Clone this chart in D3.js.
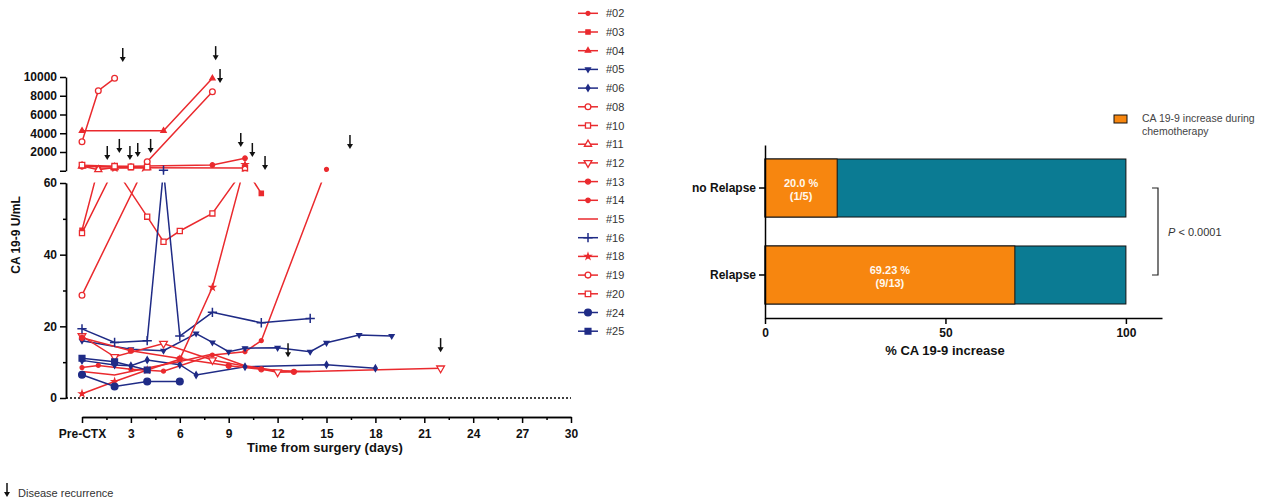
<!DOCTYPE html>
<html>
<head>
<meta charset="utf-8">
<script src="https://cdn.jsdelivr.net/npm/d3@7"></script>
<style>
  body { margin: 0; background: #fff; font-family: "Liberation Sans", Arial, sans-serif; }
  .axis path, .axis line { stroke: #000; stroke-width: 1.5; }
  .axis text { font-family: "Liberation Sans", Arial, sans-serif; font-weight: bold; font-size: 12px; fill: #111; }
</style>
</head>
<body>
<svg id="chart" width="1277" height="503"></svg>
<script>
// ---- data: [day, CA 19-9 U/mL] per patient ----
const s02 = [[0, 8.5], [1, 9.1], [3, 8.0], [5, 7.5], [8, 12.0], [10, 12.9], [11, 16.0], [15, 150]];
const s03 = [[0, 46.8], [1, 280], [3, 330], [10, 300], [11, 57.1]];
const s04 = [[0, 4270], [5, 4270], [8, 9860]];
const s05 = [[0, 16], [3, 13.6], [5, 13.2], [7, 18], [8, 15.5], [9, 12.9], [10, 13.9], [12, 14], [14, 12.9], [15, 15.4], [17, 17.6], [19, 17.3]];
const s06 = [[0, 10.5], [2, 9.2], [3, 9.0], [4, 10.6], [6, 9.3], [7, 6.4], [10, 8.7], [15, 9.3], [18, 8.3]];
const s08 = [[0, 3100], [1, 8540], [2, 9860]];
const s10 = [[0, 46.0], [2, 330], [4, 50.6], [5, 43.6], [6, 46.6], [8, 51.5], [10, 300]];
const s11 = [[0, 500], [1, 120], [2, 350], [4, 330]];
const s12 = [[0, 17.3], [2, 11.5], [5, 15.2], [8, 10.6], [12, 7.2], [22, 8.3]];
const s13 = [[0, 16.8], [3, 13.2], [6, 11.0], [9, 9.0], [11, 8.0], [13, 7.3]];
const s14 = [[0, 420], [2, 450], [3, 480], [8, 615], [10, 1330]];
const s15 = [[0, 7.4], [2, 6.4], [4, 8.4], [6, 10.2], [8, 12.3], [10, 9.0], [12, 7.6], [14, 7.4]];
const s16 = [[0, 19.3], [2, 15.5], [4, 16.0], [5, 64], [6, 17.3], [8, 23.9], [11, 21.0], [14, 22.2]];
const s18 = [[0, 1.2], [2, 4.6], [4, 7.8], [6, 10.8], [8, 30.9], [10, 650]];
const s19 = [[0, 28.7], [4, 970], [8, 8430]];
const s20 = [[0, 600], [2, 480], [3, 420], [4, 380]];
const s24 = [[0, 6.5], [2, 3.2], [4, 4.6], [6, 4.6]];
const s25 = [[0, 11.1], [2, 10.1], [4, 7.8]];

const patients = ["#02", "#03", "#04", "#05", "#06", "#08", "#10", "#11", "#12", "#13", "#14", "#15", "#16", "#18", "#19", "#20", "#24", "#25"];
const seriesData = [s02, s03, s04, s05, s06, s08, s10, s11, s12, s13, s14, s15, s16, s18, s19, s20, s24, s25];
const noRelapse = ["#05", "#06", "#16", "#24", "#25"];

// disease recurrence arrows: [day, value at arrow tip]
const recurrence = [[2.5, 11600], [8.2, 11800], [8.47, 9360], [1.55, 1150], [2.29, 1900], [2.94, 1150],
  [3.42, 1470], [4.21, 1900], [9.74, 2530], [10.45, 1470], [11.23, 80], [16.44, 2320], [12.64, 11.4], [22.0, 12.8]];

const xTicks = [0, 3, 6, 9, 12, 15, 18, 21, 24, 27, 30];
const lowTicks = [0, 20, 40, 60];
const highTicks = [0, 2000, 4000, 6000, 8000, 10000];

// bar chart
const groups = ["no Relapse", "Relapse"];
const pctIncrease = [20.0, 69.23];
const counts = ["(1/5)", "(9/13)"];

const red = "#ea2a2e", blue = "#1f2b86";
const orange = "#f7860f", teal = "#0b7b93";

const svg = d3.select("#chart");

// ---- left chart: broken y axis ----
const x = d3.scaleLinear().domain([0, 30]).range([82, 571]);
const yLow = d3.scaleLinear().domain([0, 60]).range([398, 183]);
const yHigh = d3.scaleLinear().domain([0, 10000]).range([170.75, 77]);
const y = d3.scaleLinear().domain([0, 60, 60.001, 10000]).range([398, 183, yHigh(60), 77]);

const clip = svg.append("defs").append("clipPath").attr("id", "segments");
clip.append("rect").attr("x", 60).attr("y", 0).attr("width", 560).attr("height", 171.5);
clip.append("rect").attr("x", 60).attr("y", 182.5).attr("width", 560).attr("height", 240);

const markers = {
  "#02": {type: d3.symbolCircle, size: 12, fill: true},
  "#03": {type: d3.symbolSquare, size: 18, fill: true},
  "#04": {type: d3.symbolTriangle, size: 12, fill: true},
  "#05": {type: d3.symbolTriangle, size: 10, fill: true, rot: 180},
  "#06": {type: d3.symbolDiamond, size: 12, fill: true},
  "#08": {type: d3.symbolCircle, size: 26, fill: false},
  "#10": {type: d3.symbolSquare, size: 26, fill: false},
  "#11": {type: d3.symbolTriangle, size: 22, fill: false},
  "#12": {type: d3.symbolTriangle, size: 26, fill: false, rot: 180},
  "#13": {type: d3.symbolCircle, size: 20, fill: true},
  "#14": {type: d3.symbolCircle, size: 16, fill: true},
  "#15": null,
  "#16": {type: d3.symbolPlus || d3.symbolCross, size: 30, fill: false, plus: true},
  "#18": {type: d3.symbolStar, size: 10, fill: true},
  "#19": {type: d3.symbolCircle, size: 26, fill: false},
  "#20": {type: d3.symbolSquare, size: 30, fill: false},
  "#24": {type: d3.symbolCircle, size: 36, fill: true},
  "#25": {type: d3.symbolSquare, size: 34, fill: true}
};

const colorOf = id => noRelapse.includes(id) ? blue : red;

function drawMarker(g, id, cx, cy) {
  const m = markers[id];
  if (!m) return;
  const c = colorOf(id);
  g.append("path")
    .attr("d", d3.symbol().type(m.type).size(m.size)())
    .attr("transform", `translate(${cx},${cy})` + (m.rot ? ` rotate(${m.rot})` : ""))
    .attr("fill", m.plus ? "none" : (m.fill ? c : "#fff"))
    .attr("stroke", c)
    .attr("stroke-width", m.plus ? 1.5 : 1.3);
}

// zero line
svg.append("line")
  .attr("x1", 66).attr("x2", x(30))
  .attr("y1", yLow(0)).attr("y2", yLow(0))
  .attr("stroke", "#000").attr("stroke-width", 1.3).attr("stroke-dasharray", "2,2");

const line = d3.line().x(d => x(d[0])).y(d => y(d[1]));

const lineG = svg.append("g").attr("clip-path", "url(#segments)");
patients.forEach((id, i) => {
  lineG.append("path")
    .attr("d", line(seriesData[i]))
    .attr("fill", "none")
    .attr("stroke", colorOf(id))
    .attr("stroke-width", 1.5);
});

const markG = svg.append("g");
patients.forEach((id, i) => {
  seriesData[i].forEach(d => drawMarker(markG, id, x(d[0]), y(d[1])));
});

// arrows
function drawArrow(g, ax, tip) {
  g.append("line").attr("x1", ax).attr("x2", ax).attr("y1", tip - 14).attr("y2", tip - 3)
    .attr("stroke", "#111").attr("stroke-width", 1.5);
  g.append("path").attr("d", `M${ax - 3},${tip - 5}L${ax + 3},${tip - 5}L${ax},${tip}Z`).attr("fill", "#111");
}
const arrowG = svg.append("g");
recurrence.forEach(d => drawArrow(arrowG, x(d[0]), y(d[1])));

// axes
svg.append("g").attr("class", "axis").attr("transform", "translate(66,0)")
  .call(d3.axisLeft(yLow).tickValues(lowTicks).tickSize(6).tickSizeOuter(0).tickPadding(3));
svg.append("g").attr("class", "axis").attr("transform", "translate(66,0)")
  .call(d3.axisLeft(yLow).tickValues([10, 30, 50]).tickSize(3).tickFormat("").tickSizeOuter(0));
svg.append("g").attr("class", "axis").attr("transform", "translate(66,0)")
  .call(d3.axisLeft(yHigh).tickValues(highTicks).tickSize(6).tickSizeOuter(0).tickPadding(3)
    .tickFormat(d => d === 0 ? "" : d));

svg.append("g").attr("class", "axis").attr("transform", "translate(0,417)")
  .call(d3.axisBottom(x).tickValues(xTicks).tickSize(6).tickSizeOuter(0).tickPadding(6)
    .tickFormat(d => d === 0 ? "Pre-CTX" : d));
svg.append("g").attr("class", "axis").attr("transform", "translate(0,417)")
  .call(d3.axisBottom(x).tickValues(xTicks.slice(0, -1).map(d => d + 1.5)).tickSize(3).tickFormat("").tickSizeOuter(0));

svg.append("text")
  .attr("x", 325).attr("y", 452).attr("text-anchor", "middle")
  .attr("font-weight", "bold").attr("font-size", 13).attr("fill", "#111")
  .text("Time from surgery (days)");
svg.append("text")
  .attr("transform", "translate(20,235) rotate(-90)").attr("text-anchor", "middle")
  .attr("font-weight", "bold").attr("font-size", 12).attr("fill", "#111")
  .text("CA 19-9 U/mL");

// legend
const leg = svg.append("g");
patients.forEach((id, i) => {
  const ly = 13.3 + i * 18.7;
  leg.append("line").attr("x1", 578).attr("x2", 598).attr("y1", ly).attr("y2", ly)
    .attr("stroke", colorOf(id)).attr("stroke-width", 1.5);
  drawMarker(leg, id, 588, ly);
  leg.append("text").attr("x", 606).attr("y", ly + 4).attr("font-size", 11).attr("fill", "#333").text(id);
});

drawArrow(svg, 7, 497);
svg.append("text").attr("x", 18).attr("y", 497).attr("font-size", 11).attr("fill", "#333").text("Disease recurrence");

// ---- right chart ----
const xr = d3.scaleLinear().domain([0, 110]).range([765, 1162]);
const yr = d3.scaleBand().domain(groups).range([145, 318]).paddingInner(0.333).paddingOuter(0.161);

const bars = svg.append("g");
groups.forEach((g, i) => {
  bars.append("rect").attr("x", xr(0)).attr("y", yr(g)).attr("width", xr(100) - xr(0)).attr("height", yr.bandwidth())
    .attr("fill", teal).attr("stroke", "#111").attr("stroke-width", 1);
  bars.append("rect").attr("x", xr(0)).attr("y", yr(g)).attr("width", xr(pctIncrease[i]) - xr(0)).attr("height", yr.bandwidth())
    .attr("fill", orange).attr("stroke", "#111").attr("stroke-width", 1);
  const cx = (xr(0) + xr(pctIncrease[i])) / 2;
  const cy = yr(g) + yr.bandwidth() / 2;
  bars.append("text").attr("x", cx).attr("y", cy - 1).attr("text-anchor", "middle")
    .attr("font-weight", "bold").attr("font-size", 11).attr("fill", "#fff8ee")
    .text((i === 0 ? pctIncrease[i].toFixed(1) : pctIncrease[i].toFixed(2)) + " %");
  bars.append("text").attr("x", cx).attr("y", cy + 12).attr("text-anchor", "middle")
    .attr("font-weight", "bold").attr("font-size", 11).attr("fill", "#fff8ee")
    .text(counts[i]);
});

svg.append("g").attr("class", "axis").attr("transform", "translate(765,0)")
  .call(d3.axisLeft(yr).tickSize(6).tickSizeOuter(0).tickPadding(3))
  .call(g => g.selectAll("text").attr("font-size", 13));
svg.append("g").attr("class", "axis").attr("transform", "translate(0,318)")
  .call(d3.axisBottom(xr).tickValues([0, 50, 100]).tickSize(6).tickSizeOuter(0).tickPadding(4));
svg.append("text")
  .attr("x", 945).attr("y", 355).attr("text-anchor", "middle")
  .attr("font-weight", "bold").attr("font-size", 13).attr("fill", "#111")
  .text("% CA 19-9 increase");

// significance bracket
const b1 = yr(groups[0]) + yr.bandwidth() / 2, b2 = yr(groups[1]) + yr.bandwidth() / 2;
svg.append("path").attr("d", `M1152,${b1}H1158V${b2}H1152`).attr("fill", "none").attr("stroke", "#222").attr("stroke-width", 1.2);
const pt = svg.append("text").attr("x", 1168).attr("y", (b1 + b2) / 2 + 4).attr("font-size", 11).attr("fill", "#333");
pt.append("tspan").attr("font-style", "italic").text("P");
pt.append("tspan").text(" < 0.0001");

// bar legend
svg.append("rect").attr("x", 1114).attr("y", 115).attr("width", 13).attr("height", 8)
  .attr("fill", orange).attr("stroke", "#111").attr("stroke-width", 1);
svg.append("text").attr("x", 1142).attr("y", 122).attr("font-size", 10.5).attr("fill", "#444").text("CA 19-9 increase during");
svg.append("text").attr("x", 1142).attr("y", 135).attr("font-size", 10.5).attr("fill", "#444").text("chemotherapy");
</script>
</body>
</html>
